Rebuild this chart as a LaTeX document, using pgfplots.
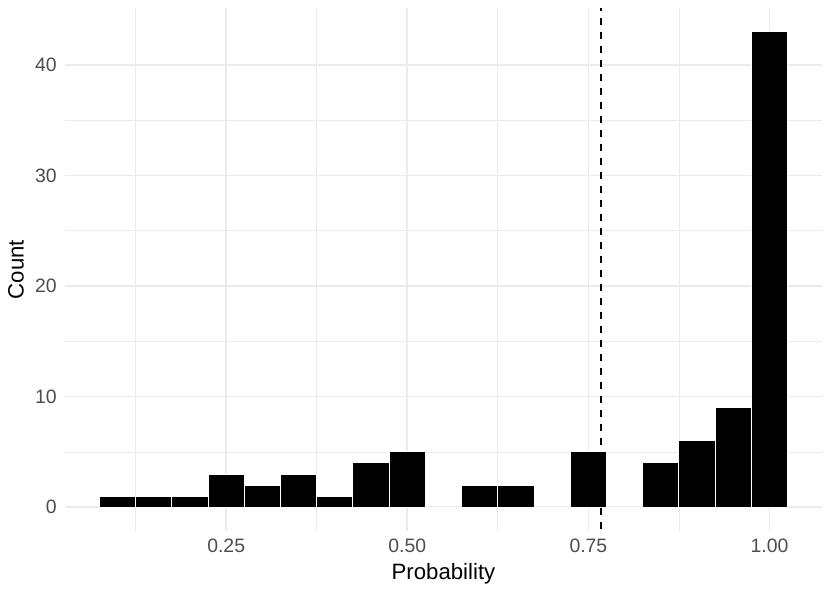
\documentclass[border=0pt]{standalone}
\usepackage{pgfplots}
\pgfplotsset{compat=1.18}
\usetikzlibrary{calc}
\usepackage{fontspec}
\setmainfont{Liberation Sans}
\definecolor{gridc}{HTML}{EBEBEB}
\definecolor{ticklab}{HTML}{4D4D4D}
\begin{document}
\begin{tikzpicture}
\begin{axis}[
 scale only axis, width=378.5pt, height=261.5pt,
 xmin=0.0275, xmax=1.0725, ymin=-2.15, ymax=45.15,
 axis line style={draw=none}, major tick length=0pt, minor tick length=0pt,
 xtick={0.25,0.5,0.75,1}, xticklabels={0.25,0.50,0.75,1.00},
 minor xtick={0.125,0.375,0.625,0.875},
 ytick={0,10,20,30,40}, yticklabels={0,10,20,30,40},
 minor ytick={5,15,25,35},
 grid=both,
 major grid style={draw=gridc, line width=0.8pt},
 minor grid style={draw=gridc, line width=0.4pt},
 ticklabel style={font=\fontsize{9.7}{11}\selectfont, text=ticklab},
 xticklabel style={inner sep=0pt, yshift=-4pt},
 yticklabel style={inner sep=0pt, xshift=-4pt},
 xlabel={Probability}, ylabel={Count},
 label style={font=\fontsize{11.1}{13}\selectfont},
 xlabel style={inner sep=0pt, at={(axis description cs:0.5,0)}, anchor=base, yshift=-24.5pt},
 ylabel style={inner sep=0pt, at={(axis description cs:0,0.5)}, anchor=center, yshift=24.5pt},
 clip=false,
]
\addplot[ybar interval, fill=black, draw=white, line width=0.5pt] coordinates {
(0.075,1) (0.125,1) (0.175,1) (0.225,3) (0.275,2) (0.325,3) (0.375,1) (0.425,4) (0.475,5)
(0.525,0) (0.575,2) (0.625,2) (0.675,0) (0.725,5) (0.775,0) (0.825,4) (0.875,6) (0.925,9)
(0.975,43) (1.025,0)};
\addplot[black, line width=1pt, dash pattern=on 3.5pt off 3.5pt, dash phase=6pt] coordinates {(0.7676,-2.15) (0.7676,45.15)};
\coordinate (ll) at (rel axis cs:0,0);
\coordinate (ur) at (rel axis cs:1,1);
\end{axis}
\pgfresetboundingbox
\path[use as bounding box] ($(ll)+(-32.5pt,-31pt)$) rectangle ($(ur)+(4pt,4pt)$);
\end{tikzpicture}
\end{document}
